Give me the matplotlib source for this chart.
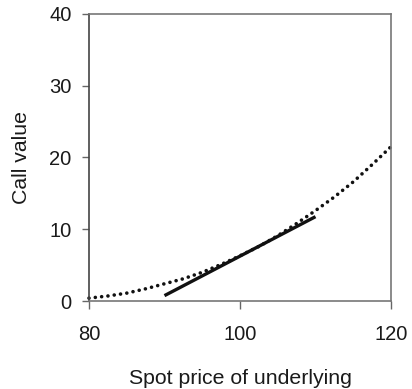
import matplotlib
matplotlib.use("Agg")
import matplotlib.pyplot as plt

# Call value as a function of the underlying's spot price
spot = [80, 82.5, 85, 87.5, 90, 92.5, 95, 97.5, 100, 102.5, 105,
        107.5, 110, 112.5, 115, 117.5, 120]
call_value = [0.4, 0.7, 1.1, 1.7, 2.4, 3.1, 4.0, 5.1, 6.3, 7.6, 9.1,
              10.8, 12.6, 14.5, 16.6, 19.0, 21.5]

# Tangent (delta) approximation around the at-the-money point
tangent_spot = [90, 110]
tangent_value = [0.75, 11.75]

x_ticks = [80, 100, 120]
y_ticks = [0, 10, 20, 30, 40]

plt.rcParams["font.family"] = ["Liberation Sans", "DejaVu Sans"]

fig = plt.figure(figsize=(4.12, 3.89), dpi=100)
ax = fig.add_axes([0.216, 0.2262, 0.733, 0.738])

ax.plot(spot, call_value, linestyle=(0, (0.01, 1.75)), color="#111111",
        linewidth=2.6, dash_capstyle="round", clip_on=False)
ax.plot(tangent_spot, tangent_value, color="#111111", linewidth=2.4,
        solid_capstyle="butt")

ax.set_xlim(80, 120)
ax.set_ylim(0, 40)
ax.set_xticks(x_ticks)
ax.set_yticks(y_ticks)
ax.tick_params(axis="x", length=6, width=1, color="#666666",
               labelsize=14.5, pad=11, labelcolor="#1a1a1a")
ax.tick_params(axis="y", length=5, width=1, color="#666666",
               labelsize=14.5, pad=7.5, labelcolor="#1a1a1a")

for side in ["top", "right", "bottom"]:
    ax.spines[side].set_color("#777777")
    ax.spines[side].set_linewidth(1.2)
ax.spines["left"].set_color("#444444")
ax.spines["left"].set_linewidth(1.2)

ax.set_xlabel("Spot price of underlying", fontsize=15.3, labelpad=18,
              color="#1a1a1a")
ax.set_ylabel("Call value", fontsize=15.3, labelpad=13, color="#1a1a1a")

fig.savefig("out.png", dpi=100)
